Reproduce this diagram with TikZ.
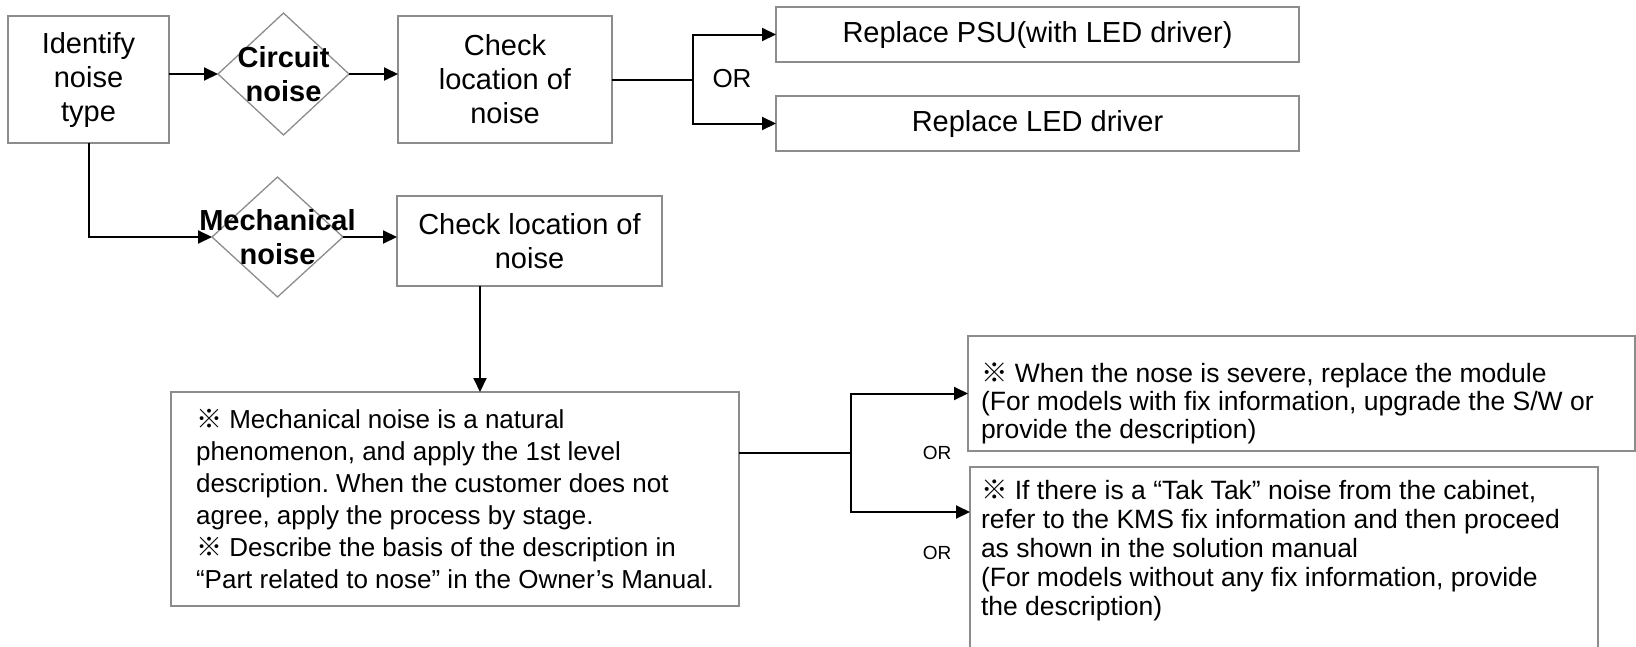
\documentclass[tikz,border=0pt]{standalone}
\usepackage{fontspec}
\setmainfont{Liberation Sans}
\newfontfamily\cjkfont{Noto Sans CJK SC}
\usetikzlibrary{shapes.geometric,arrows.meta}
\definecolor{boxgray}{RGB}{140,140,140}
\newcommand\kome{{\cjkfont ※}}
\frenchspacing
\begin{document}
\begin{tikzpicture}[x=1pt,y=-1pt,
  box/.style={draw=boxgray, line width=2pt, rectangle, inner sep=0pt, outer sep=0pt, align=center},
  dia/.style={draw=boxgray, line width=1.3pt, diamond, inner sep=0pt, outer sep=0pt},
  big29/.style={font=\fontsize{29}{34}\selectfont},
  bold29/.style={font=\fontsize{29}{34}\selectfont\bfseries, align=center, inner sep=0pt},
  note26/.style={font=\fontsize{26}{32}\selectfont, align=left},
  side/.style={font=\fontsize{26.5}{28}\selectfont, align=left, inner sep=0pt, outer sep=0pt},
  side2/.style={font=\fontsize{26.5}{29}\selectfont, align=left, inner sep=0pt, outer sep=0pt},
  orbig/.style={font=\fontsize{26}{30}\selectfont, inner sep=0pt},
  orsmall/.style={font=\fontsize{19}{22}\selectfont, inner sep=0pt},
  arr/.style={line width=2pt, -{Triangle[length=14pt,width=13pt]}},
  ln/.style={line width=2pt},
  thinln/.style={line width=1.3pt}
]
\useasboundingbox (0,0) rectangle (1636,646);
\clip (0,0) rectangle (1636,646);

% top row
\node[box,big29,minimum width=161pt,minimum height=127pt] (ident) at (88.5,79.5) {Identify\\noise\\type};
\node[dia,minimum width=131pt,minimum height=122pt] (cd) at (283.5,74) {};
\node[bold29] (cdt) at (cd) {Circuit\\noise};
\node[box,big29,minimum width=214pt,minimum height=127pt] (chk) at (505,79.5) {Check\\location of\\noise};
\node[box,big29,minimum width=523pt,minimum height=55pt] (psu) at (1037.5,34.5) {Replace PSU(with LED driver)};
\node[box,big29,minimum width=523pt,minimum height=55pt] (led) at (1037.5,123.5) {Replace LED driver};
\node[orbig] (or1) at (732,79) {OR};
\coordinate (br1) at (693,79.5);

\draw[arr] (cd.west -| ident.east) -- (cd.west);
\draw[arr] (cd.east) -- (cd.east -| chk.west);
\draw[ln] (chk.east) -- (br1);
\draw[arr] (br1) |- (psu.west);
\draw[arr] (br1) |- (led.west);

% mechanical branch
\node[dia,minimum width=131pt,minimum height=120pt] (md) at (277.5,237) {};
\node[bold29] (mdt) at (md) {Mechanical\\noise};
\node[box,big29,minimum width=265pt,minimum height=90pt] (chk2) at (529.5,241) {Check location of\\noise};
\draw[arr] (ident.south) |- (md.west);
\draw[arr] (md.east) -- (md.east -| chk2.west);

\node[box,note26,align=left,minimum width=568pt,minimum height=214pt] (big) at (455,499)
 {\kome{} Mechanical noise is a natural\\
  phenomenon, and apply the 1st level\\
  description. When the customer does not\\
  agree, apply the process by stage.\\
  \kome{} Describe the basis of the description in\\
  “Part related to nose” in the Owner’s Manual.};
\draw[arr] ([xshift=-49.5pt]chk2.south) -- ([xshift=25pt]big.north);

% right branch
\node[box,minimum width=667pt,minimum height=115pt] (r1) at (1301.5,393.5) {};
\node[box,minimum width=628pt,minimum height=213pt] (r2) at (1284,573.5) {};
\node[side,anchor=north west] (r1t) at (981,363)
 {\kome{} When the nose is severe, replace the module\\
  (For models with fix information, upgrade the S/W or\\
  provide the description)};
\node[side2,anchor=north west] (r2t) at (981,480)
 {\kome{} If there is a “Tak Tak” noise from the cabinet,\\
  refer to the KMS fix information and then proceed\\
  as shown in the solution manual\\
  (For models without any fix information, provide\\
  the description)};
\coordinate (br2) at (851,453);
\draw[thinln] (big.east |- br2) -- (br2);
\draw[arr] (br2) |- (r1.west);
\draw[arr] (br2) |- ([yshift=-45pt]r2.north west);
\node[orsmall] (or2) at (937,453) {OR};
\node[orsmall] (or3) at (937,553) {OR};
\end{tikzpicture}
\end{document}
